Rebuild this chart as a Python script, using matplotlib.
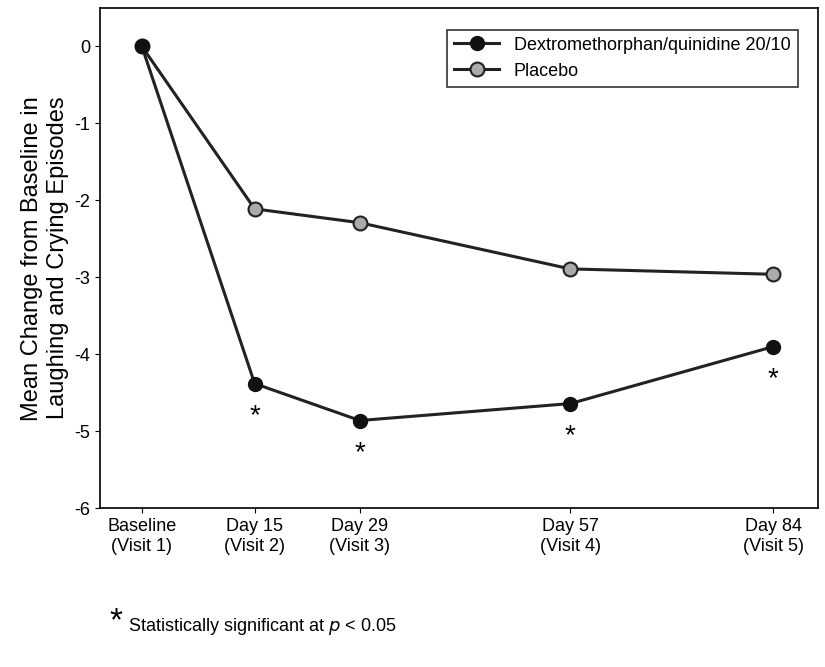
import matplotlib
matplotlib.use("Agg")
import matplotlib.pyplot as plt

days = [0, 15, 29, 57, 84]
tick_labels = ["Baseline\n(Visit 1)", "Day 15\n(Visit 2)", "Day 29\n(Visit 3)",
               "Day 57\n(Visit 4)", "Day 84\n(Visit 5)"]
dm_values = [0, -4.38, -4.86, -4.64, -3.90]
placebo_values = [0, -2.11, -2.29, -2.89, -2.96]
significant = [False, True, True, True, True]

plt.rcParams["font.family"] = ["Liberation Sans Narrow", "Liberation Sans", "DejaVu Sans"]

fig = plt.figure(figsize=(8.25, 6.67), dpi=100)
ax = fig.add_axes([0.121, 0.238, 0.870, 0.750])

ax.plot(days, placebo_values, color="#222222", lw=2.2, marker="o", ms=10,
        mfc="#aaaaaa", mec="#222222", mew=1.5, label="Placebo", zorder=3)
ax.plot(days, dm_values, color="#222222", lw=2.2, marker="o", ms=10,
        mfc="#111111", mec="#111111", label="Dextromethorphan/quinidine 20/10", zorder=4)

for d, v, s in zip(days, dm_values, significant):
    if s:
        ax.text(d, v - 0.25, "*", ha="center", va="top", fontsize=20)

ax.set_xlim(-5.6, 89.9)
ax.set_ylim(-6, 0.5)
ax.set_xticks(days)
ax.set_xticklabels(tick_labels, fontsize=13)
ax.set_yticks(range(-6, 1))
ax.set_yticklabels([str(t) if t == 0 else f"-{abs(t)}" for t in range(-6, 1)], fontsize=13)
ax.set_ylabel("Mean Change from Baseline in\nLaughing and Crying Episodes", fontsize=17)
for sp in ax.spines.values():
    sp.set_linewidth(1.2)

handles, labels = ax.get_legend_handles_labels()
leg = ax.legend(handles[::-1], labels[::-1], loc="upper right", fontsize=13,
                fancybox=False, edgecolor="black", handlelength=2.5,
                bbox_to_anchor=(0.985, 0.975))
leg.get_frame().set_linewidth(1.2)

fig.text(0.133, 0.045, "*", fontsize=24, ha="left", va="bottom")
fig.text(0.155, 0.045, "Statistically significant at $p$ < 0.05", fontsize=13,
         ha="left", va="bottom")

fig.savefig("out.png", dpi=100)
